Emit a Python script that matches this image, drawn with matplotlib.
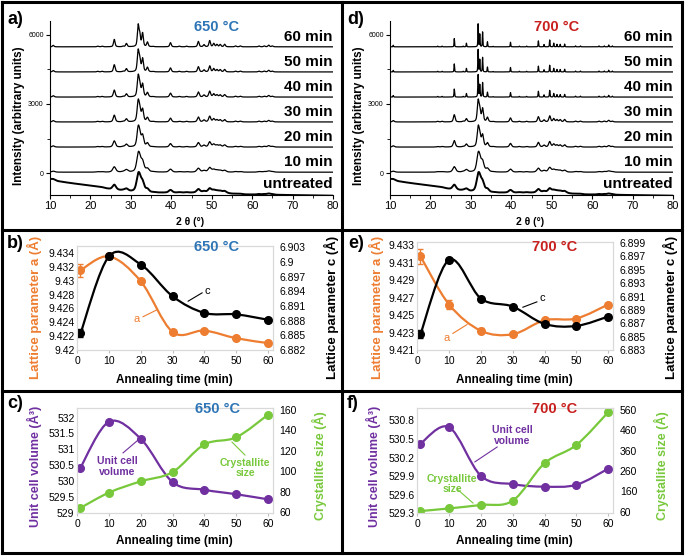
import numpy as np
import matplotlib.pyplot as plt
from matplotlib.path import Path
from matplotlib.patches import PathPatch
from matplotlib.lines import Line2D
from matplotlib.ticker import FuncFormatter, MultipleLocator

plt.rcParams['font.family'] = ['Liberation Sans', 'DejaVu Sans']

BLUE = '#2E75B6'
RED = '#C8201E'
ORANGE = '#ED7D31'
PURPLE = '#7030A0'
GREEN = '#78C83C'

# ---------------- XRD data (peak list) ----------------
two_theta = np.arange(10, 80.001, 0.02)
peak_pos = [10.8, 21.8, 22.9, 25.9, 28.1, 28.9, 31.8, 32.2, 32.9, 34.1, 35.5,
            39.8, 42.0, 43.8, 46.7, 48.1, 49.5, 50.5, 51.3, 52.1, 53.2,
            55.9, 57.1, 61.7, 63.0, 64.1, 65.0]
peak_rel = [0.07, 0.03, 0.03, 0.36, 0.03, 0.16, 1.00, 0.55, 0.65, 0.22, 0.02,
            0.20, 0.03, 0.03, 0.26, 0.10, 0.30, 0.16, 0.11, 0.11, 0.12,
            0.04, 0.04, 0.04, 0.04, 0.08, 0.04]
samples = ['untreated', '10 min', '20 min', '30 min', '40 min', '50 min', '60 min']
offsets = [-900, 40, 1130, 2220, 3300, 4390, 5480]
height_650 = [870, 910, 960, 1000, 1000, 1000, 1000]
fwhm_650 = [1.0, 0.9, 0.7, 0.6, 0.55, 0.5, 0.45]
height_700 = [870, 910, 960, 1000, 980, 980, 1000]
fwhm_700 = [1.0, 0.85, 0.6, 0.5, 0.18, 0.16, 0.15]
# amorphous background of the untreated powder
bg_tt = [10, 12, 15, 20, 25, 30, 35, 53, 56, 65, 80]
bg_untreated = [640, 550, 470, 360, 200, 100, 50, 50, -20, -40, -80]

# ---------------- lattice parameters ----------------
time = [1, 10, 20, 30, 40, 50, 60]
a_650 = [9.4315, 9.4335, 9.4299, 9.4226, 9.4228, 9.4217, 9.4210]
a_650_err = [0.0009, 0.0004, 0.0003, 0.0002, 0.0002, 0.0002, 0.0002]
c_650 = [6.8854, 6.9012, 6.8995, 6.8930, 6.8896, 6.8893, 6.8882]
c_650_err = [0.0008, 0.0004, 0.0003, 0.0002, 0.0002, 0.0002, 0.0002]
a_700 = [9.4317, 9.4262, 9.4232, 9.4228, 9.4244, 9.4246, 9.4262]
a_700_err = [0.0009, 0.0005, 0.0003, 0.0002, 0.0002, 0.0002, 0.0002]
c_700 = [6.8854, 6.8965, 6.8907, 6.8895, 6.8869, 6.8866, 6.8880]
c_700_err = [0.0006, 0.0003, 0.0002, 0.0002, 0.0002, 0.0002, 0.0002]

# ---------------- unit cell volume / crystallite size ----------------
vol_650 = [530.43, 531.87, 531.33, 529.97, 529.73, 529.59, 529.43]
size_650 = [64, 79, 90, 99, 126, 133, 155]
vol_700 = [530.425, 530.69, 529.905, 529.77, 529.73, 529.76, 530.02]
size_700 = [63, 76, 93, 114, 298, 388, 549]

a_ticks_650 = [9.42, 9.422, 9.424, 9.426, 9.428, 9.43, 9.432, 9.434]
c_ticks_650 = [6.882, 6.885, 6.888, 6.891, 6.894, 6.897, 6.9, 6.903]
a_ticks_700 = [9.421, 9.423, 9.425, 9.427, 9.429, 9.431, 9.433]
c_ticks_700 = [6.883, 6.885, 6.887, 6.889, 6.891, 6.893, 6.895, 6.897, 6.899]
vol_ticks_650 = [529, 529.5, 530, 530.5, 531, 531.5, 532]
size_ticks_650 = [60, 80, 100, 120, 140, 160]
vol_ticks_700 = [529.3, 529.6, 529.9, 530.2, 530.5, 530.8]
size_ticks_700 = [60, 160, 260, 360, 460, 560]

W, H = 685, 558
fig = plt.figure(figsize=(W / 100, H / 100), dpi=100)


def box(l, t, r, b):
    return [l / W, 1 - b / H, (r - l) / W, (b - t) / H]


def ftext(x, y, s, **kw):
    kw.setdefault('ha', 'center')
    kw.setdefault('va', 'center')
    fig.text(x / W, 1 - y / H, s, **kw)


def pattern(fwhm, height):
    y = np.zeros_like(two_theta)
    for p, r in zip(peak_pos, peak_rel):
        d = (two_theta - p) / (fwhm / 2)
        y += r * (0.5 / (1 + d ** 2) + 0.5 * np.exp(-np.log(2) * d ** 2))
    return y / y.max() * height


def xrd_panel(rect, heights, widths, temp, tcolor, xoff):
    ax = fig.add_axes(box(*rect))
    for i, name in enumerate(samples):
        y = pattern(widths[i], heights[i]) + offsets[i]
        lw = 0.9
        if i == 0:
            y = y + np.interp(two_theta, bg_tt, bg_untreated)
            lw = 1.4
        ax.plot(two_theta, y, color='black', lw=lw)
        ax.text(80, offsets[i] + 430, name, ha='right', va='center',
                fontsize=11, fontweight='bold')
    ax.set_xlim(10, 80)
    ax.set_ylim(-950, 6600)
    ax.set_xticks(range(10, 81, 10))
    ax.set_yticks([0, 3000, 6000])
    ax.xaxis.set_minor_locator(MultipleLocator(5))
    ax.yaxis.set_minor_locator(MultipleLocator(1500))
    for s in ['top', 'right']:
        ax.spines[s].set_visible(False)
    ax.tick_params(axis='x', labelsize=8, length=3, pad=1.5, direction='out')
    ax.tick_params(axis='y', labelsize=5, length=3, pad=1.5, direction='out')
    ax.tick_params(which='minor', length=2)
    ax.text(0.59, 0.965, temp, transform=ax.transAxes, ha='center', va='center',
            color=tcolor, fontsize=10.5, fontweight='bold')
    ftext(xoff + 19, 116, 'Intensity (arbitrary units)', rotation=90,
          fontsize=8.5, fontweight='bold')
    ftext(xoff + 190, 222, '2 \u03b8 (\u00b0)', fontsize=7.5, fontweight='bold')
    return ax


def smooth(ax, x, y, color):
    # Excel-like smoothed line (Catmull-Rom as cubic Bezier segments)
    p = np.column_stack([x, y]).astype(float)
    ext = np.vstack([p[0], p, p[-1]])
    verts = [p[0]]
    codes = [Path.MOVETO]
    for i in range(1, len(ext) - 2):
        c1 = ext[i] + (ext[i + 1] - ext[i - 1]) / 6
        c2 = ext[i + 1] - (ext[i + 2] - ext[i]) / 6
        verts += [c1, c2, ext[i + 1]]
        codes += [Path.CURVE4] * 3
    ax.add_patch(PathPatch(Path(verts, codes), fill=False, edgecolor=color, lw=1.6))
    ax.plot(x, y, 'o', color=color, ms=5.5)


fmt = FuncFormatter(lambda v, p: f'{v:g}')


def style(ax):
    for s in ax.spines.values():
        s.set_color('#d9d9d9')
        s.set_linewidth(0.8)
    ax.tick_params(labelsize=7.5, length=0, pad=2)
    ax.yaxis.set_major_formatter(fmt)


def twin_panel(rect, x, y1, y2, c1, c2, lim1, lim2, t1, t2, e1=None, e2=None):
    ax = fig.add_axes(box(*rect))
    ax2 = ax.twinx()
    ax.set_xlim(0, 61.5)
    ax.set_xticks(range(0, 61, 10))
    ax.set_ylim(*lim1)
    ax2.set_ylim(*lim2)
    ax.set_yticks(t1)
    ax2.set_yticks(t2)
    style(ax)
    style(ax2)
    ax.tick_params(axis='x', length=2, color='#bfbfbf', pad=2)
    ax2.tick_params(axis='y', pad=5)
    if e1 is not None:
        ax.errorbar(x, y1, yerr=e1, fmt='none', ecolor=c1, capsize=2, lw=1)
    smooth(ax, x, y1, c1)
    if e2 is not None:
        ax2.errorbar(x, y2, yerr=e2, fmt='none', ecolor=c2, capsize=2, lw=1)
    smooth(ax2, x, y2, c2)
    return ax, ax2


# ---- a) and d) ----
xrd_panel((50, 21, 333, 195), height_650, fwhm_650, '650 \u00b0C', BLUE, 0)
xrd_panel((390, 21, 673, 195), height_700, fwhm_700, '700 \u00b0C', RED, 340)

# ---- b) ----
ax, ax2 = twin_panel((77.3, 246, 272.6, 350), time, a_650, c_650, ORANGE, 'black',
                     (9.42, 9.435), (6.882, 6.9033), a_ticks_650, c_ticks_650,
                     a_650_err, c_650_err)
ax.text(18.8, 9.4245, 'a', color=ORANGE, fontsize=8, ha='center', va='center')
ax.plot([20.7, 25.1], [9.4248, 9.4258], color=ORANGE, lw=0.8)
ax2.text(40.9, 6.8941, 'c', color='black', fontsize=8, ha='center', va='center')
ax2.plot([34.9, 39.3], [6.8920, 6.8937], color='black', lw=0.8)
ftext(217, 247, '650 \u00b0C', color=BLUE, fontsize=10.5, fontweight='bold')
ftext(34, 307, 'Lattice parameter a (\u00c5)', rotation=90, color=ORANGE,
      fontsize=9.5, fontweight='bold')
ftext(331, 307, 'Lattice parameter c (\u00c5)', rotation=90, fontsize=9.5,
      fontweight='bold')
ftext(174, 380, 'Annealing time (min)', fontsize=8.5, fontweight='bold')

# ---- e) ----
ax, ax2 = twin_panel((417.3, 242.4, 612.9, 350), time, a_700, c_700, ORANGE, 'black',
                     (9.421, 9.4333), (6.883, 6.8991), a_ticks_700, c_ticks_700,
                     a_700_err, c_700_err)
ax.text(9.3, 9.4224, 'a', color=ORANGE, fontsize=8, ha='center', va='center')
ax.plot([11.2, 15.6], [9.4229, 9.4239], color=ORANGE, lw=0.8)
ax2.text(39.2, 6.8908, 'c', color='black', fontsize=8, ha='center', va='center')
ax2.plot([33.2, 37.6], [6.8894, 6.8902], color='black', lw=0.8)
ftext(555, 247, '700 \u00b0C', color=RED, fontsize=10.5, fontweight='bold')
ftext(376, 307, 'Lattice parameter a (\u00c5)', rotation=90, color=ORANGE,
      fontsize=9.5, fontweight='bold')
ftext(670, 307, 'Lattice parameter c (\u00c5)', rotation=90, fontsize=9.5,
      fontweight='bold')
ftext(514, 380, 'Annealing time (min)', fontsize=8.5, fontweight='bold')

# ---- c) ----
ax, ax2 = twin_panel((77.3, 408, 272.6, 513), time, vol_650, size_650, PURPLE, GREEN,
                     (529, 532.3), (59, 161.7), vol_ticks_650, size_ticks_650)
ax.text(12.5, 530.45, 'Unit cell\nvolume', color=PURPLE, fontsize=7.5,
        fontweight='bold', ha='center', va='center', linespacing=1.1)
ax.plot([14.4, 19.1], [530.89, 531.29], color=PURPLE, lw=0.8)
ax2.text(52.8, 103, 'Crystallite\nsize', color=GREEN, fontsize=7.5,
         fontweight='bold', ha='center', va='center', linespacing=1.1)
ax2.plot([52.8, 48.7], [115.7, 128.4], color=GREEN, lw=0.8)
ftext(218, 409, '650 \u00b0C', color=BLUE, fontsize=10.5, fontweight='bold')
ftext(34, 466, 'Unit cell volume (\u00c5\u00b3)', rotation=90, color=PURPLE,
      fontsize=9, fontweight='bold')
ftext(319, 466, 'Crystallite size (\u00c5)', rotation=90, color=GREEN,
      fontsize=9, fontweight='bold')
ftext(174, 541, 'Annealing time (min)', fontsize=8.5, fontweight='bold')

# ---- f) ----
ax, ax2 = twin_panel((417.3, 408, 612.9, 513.3), time, vol_700, size_700, PURPLE, GREEN,
                     (529.3, 531.0), (52, 570), vol_ticks_700, size_ticks_700)
ax.text(29.8, 530.56, 'Unit cell\nvolume', color=PURPLE, fontsize=7.5,
        fontweight='bold', ha='center', va='center', linespacing=1.1)
ax.plot([25.1, 18.1], [530.37, 530.13], color=PURPLE, lw=0.8)
ax2.text(10.9, 196, 'Crystallite\nsize', color=GREEN, fontsize=7.5,
         fontweight='bold', ha='center', va='center', linespacing=1.1)
ax2.plot([12.5, 17.5], [171.5, 102.7], color=GREEN, lw=0.8)
ftext(555, 409, '700 \u00b0C', color=RED, fontsize=10.5, fontweight='bold')
ftext(373, 466, 'Unit cell volume (\u00c5\u00b3)', rotation=90, color=PURPLE,
      fontsize=9, fontweight='bold')
ftext(661, 466, 'Crystallite size (\u00c5)', rotation=90, color=GREEN,
      fontsize=9, fontweight='bold')
ftext(514, 541, 'Annealing time (min)', fontsize=8.5, fontweight='bold')

# panel letters
for lab, x, y in [('a)', 7, 19), ('d)', 347, 19), ('b)', 7, 243), ('e)', 348, 243),
                  ('c)', 7, 403), ('f)', 347, 403)]:
    ftext(x, y, lab, ha='left', fontsize=13, fontweight='bold')

# panel frames
for (x0, y0, x1, y1) in [(2, 2, 682, 2), (2, 553, 682, 553), (2, 2, 2, 553),
                         (682, 2, 682, 553), (342, 2, 342, 553),
                         (2, 230, 682, 230), (2, 391, 682, 391)]:
    fig.add_artist(Line2D([x0 / W, x1 / W], [1 - y0 / H, 1 - y1 / H],
                          color='black', lw=2.2, transform=fig.transFigure))

fig.savefig('out.png', dpi=100)
